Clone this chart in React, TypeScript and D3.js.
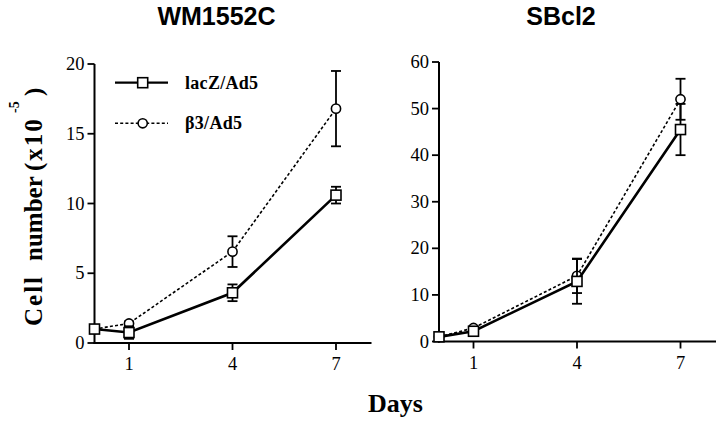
import React from "react";
import * as d3 from "d3";

const days = [0, 1, 4, 7];
const xTicks = [1, 4, 7];

const wmLacZ = [1.0, 0.75, 3.6, 10.6];
const wmLacZErr = [0.1, 0.45, 0.6, 0.6];
const wmB3 = [1.0, 1.4, 6.55, 16.8];
const wmB3Err = [0.1, 0.15, 1.1, 2.7];
const wmYTicks = [0, 5, 10, 15, 20];

const sbLacZ = [1.0, 2.2, 12.9, 45.5];
const sbLacZErr = [0.2, 0.4, 4.8, 5.5];
const sbB3 = [1.0, 2.9, 14.1, 52.0];
const sbB3Err = [0.2, 0.3, 3.7, 4.4];
const sbYTicks = [0, 10, 20, 30, 40, 50, 60];

const seriesNames = ["lacZ/Ad5", "β3/Ad5"];

const SERIF = "'Liberation Serif', 'Times New Roman', serif";
const SANS = "'Liberation Sans', Arial, sans-serif";

type PanelProps = {
  title: string;
  x0: number;
  x1: number;
  yTop: number;
  yBottom: number;
  yMax: number;
  yTicks: number[];
  lacZ: number[];
  lacZErr: number[];
  b3: number[];
  b3Err: number[];
};

function Panel(p: PanelProps) {
  const x = d3.scaleLinear().domain([0, 8]).range([p.x0, p.x1]);
  const y = d3.scaleLinear().domain([0, p.yMax]).range([p.yBottom, p.yTop]);
  const line = d3
    .line<number>()
    .x((_, i) => x(days[i]))
    .y((d) => y(d));
  const cap = 5;
  const errBars = (vals: number[], errs: number[], key: string) =>
    vals.map((v, i) => (
      <g key={key + i} stroke="#000" strokeWidth={1.8}>
        <line x1={x(days[i])} x2={x(days[i])} y1={y(v + errs[i])} y2={y(v - errs[i])} />
        <line x1={x(days[i]) - cap} x2={x(days[i]) + cap} y1={y(v + errs[i])} y2={y(v + errs[i])} />
        <line x1={x(days[i]) - cap} x2={x(days[i]) + cap} y1={y(v - errs[i])} y2={y(v - errs[i])} />
      </g>
    ));
  const cx = p.x0 + 122;
  return (
    <g>
      <text x={cx} y={25} textAnchor="middle" fontFamily={SANS} fontWeight="bold" fontSize={25}>
        {p.title}
      </text>
      {/* axes */}
      <line x1={x(0)} x2={x(0)} y1={y(0) + 1} y2={y(p.yMax)} stroke="#000" strokeWidth={2} />
      <line x1={x(0) - 1} x2={x(8) + 1} y1={y(0)} y2={y(0)} stroke="#000" strokeWidth={2} />
      {p.yTicks.map((t) => (
        <g key={"y" + t}>
          <line x1={x(0) - 7} x2={x(0)} y1={y(t)} y2={y(t)} stroke="#000" strokeWidth={1.8} />
          <text x={x(0) - 10} y={y(t) + 6} textAnchor="end" fontFamily={SERIF} fontSize={18.5}>
            {t}
          </text>
        </g>
      ))}
      {xTicks.map((t) => (
        <g key={"x" + t}>
          <line x1={x(t)} x2={x(t)} y1={y(0)} y2={y(0) + 7} stroke="#000" strokeWidth={1.8} />
          <text x={x(t)} y={y(0) + 27} textAnchor="middle" fontFamily={SERIF} fontSize={18.5}>
            {t}
          </text>
        </g>
      ))}
      {/* beta3 series */}
      {errBars(p.b3, p.b3Err, "be")}
      <path d={line(p.b3) || ""} fill="none" stroke="#000" strokeWidth={1.6} strokeDasharray="3,2.2" />
      {p.b3.map((v, i) => (
        <circle key={"bc" + i} cx={x(days[i])} cy={y(v)} r={4.6} fill="#fff" stroke="#000" strokeWidth={1.6} />
      ))}
      {/* lacZ series */}
      {errBars(p.lacZ, p.lacZErr, "le")}
      <path d={line(p.lacZ) || ""} fill="none" stroke="#000" strokeWidth={2.6} />
      {p.lacZ.map((v, i) => (
        <rect key={"lr" + i} x={x(days[i]) - 5} y={y(v) - 5} width={10} height={10} fill="#fff" stroke="#000" strokeWidth={1.6} />
      ))}
    </g>
  );
}

export default function App() {
  const legY = [82.7, 123.3];
  return (
    <svg width={720} height={421} style={{ display: "block", position: "absolute", left: 0, top: 0 }}>
      <rect width={720} height={421} fill="#fff" />
      <Panel title="WM1552C" x0={94.5} x1={370.5} yTop={64} yBottom={343} yMax={20} yTicks={wmYTicks}
        lacZ={wmLacZ} lacZErr={wmLacZErr} b3={wmB3} b3Err={wmB3Err} />
      <Panel title="SBcl2" x0={439} x1={715} yTop={62} yBottom={341.5} yMax={60} yTicks={sbYTicks}
        lacZ={sbLacZ} lacZErr={sbLacZErr} b3={sbB3} b3Err={sbB3Err} />
      {/* legend */}
      <line x1={115} x2={168} y1={legY[0]} y2={legY[0]} stroke="#000" strokeWidth={2.2} />
      <rect x={142.7 - 5} y={legY[0] - 5} width={10} height={10} fill="#fff" stroke="#000" strokeWidth={1.6} />
      <text x={185} y={legY[0] + 6} fontFamily={SERIF} fontWeight="bold" fontSize={18} letterSpacing={0.3}>{seriesNames[0]}</text>
      <line x1={115} x2={168} y1={legY[1]} y2={legY[1]} stroke="#000" strokeWidth={1.6} strokeDasharray="3,2.2" />
      <circle cx={142.7} cy={legY[1]} r={4.6} fill="#fff" stroke="#000" strokeWidth={1.6} />
      <text x={185} y={legY[1] + 6} fontFamily={SERIF} fontWeight="bold" fontSize={18} letterSpacing={0.3}>{seriesNames[1]}</text>
      {/* axis titles */}
      <text x={395.5} y={412} textAnchor="middle" fontFamily={SERIF} fontWeight="bold" fontSize={26}>Days</text>
      <g transform="translate(42,0) rotate(-90)">
        <text fontFamily={SERIF} fontWeight="bold" fontSize={25}>
          <tspan x={-326} letterSpacing={2}>Cell</tspan>
          <tspan x={-261}>number</tspan>
          <tspan x={-171} letterSpacing={2}>(x10</tspan>
        </text>
        <text fontFamily={SERIF} fontWeight="bold" fontSize={14} x={-113} y={-23}>-5</text>
        <text fontFamily={SERIF} fontWeight="bold" fontSize={25} x={-96}>)</text>
      </g>
    </svg>
  );
}
